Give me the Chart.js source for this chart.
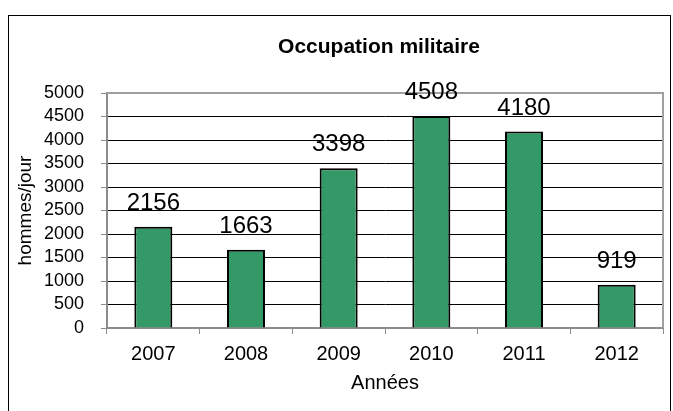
<!DOCTYPE html>
<html>
<head>
<meta charset="utf-8">
<script src="https://cdn.jsdelivr.net/npm/chart.js@4/dist/chart.umd.min.js"></script>
<style>
  html, body { margin: 0; padding: 0; background: #fff; }
  #wrap { position: relative; width: 673px; height: 411px; }
</style>
</head>
<body>
<div id="wrap"><canvas id="chart-occupation"></canvas></div>
<script>
// Values
const years = ['2007', '2008', '2009', '2010', '2011', '2012'];
const hommesJour = [2156, 1663, 3398, 4508, 4180, 919];
const chartTitle = 'Occupation militaire';
const yTitle = 'hommes/jour';
const xTitle = 'Années';

const FONT = "'Liberation Sans', Arial, sans-serif";
const AXIS_GRAY = '#8c8c8c';

// Outer frame, chart title and plot border
const decorations = {
  id: 'decorations',
  beforeDatasetsDraw(chart) {
    const { ctx, chartArea: a } = chart;
    ctx.save();
    ctx.strokeStyle = '#a0a0a0';
    ctx.lineWidth = 2;
    ctx.beginPath();
    ctx.moveTo(a.left, a.top);
    ctx.lineTo(a.right, a.top);
    ctx.lineTo(a.right, a.bottom);
    ctx.stroke();
    ctx.restore();
  },
  afterDraw(chart) {
    const { ctx } = chart;
    ctx.save();
    ctx.strokeStyle = '#000';
    ctx.lineWidth = 1;
    ctx.strokeRect(8.5, 15.5, 662, 420);
    ctx.fillStyle = '#000';
    ctx.font = 'bold 21px ' + FONT;
    ctx.textAlign = 'center';
    ctx.textBaseline = 'middle';
    ctx.fillText(chartTitle, 379, 47);
    ctx.restore();
  }
};

// Value labels above each bar
const valueLabels = {
  id: 'valueLabels',
  afterDatasetsDraw(chart) {
    const { ctx } = chart;
    const meta = chart.getDatasetMeta(0);
    ctx.save();
    ctx.fillStyle = '#000';
    ctx.font = '24px ' + FONT;
    ctx.textAlign = 'center';
    ctx.textBaseline = 'alphabetic';
    meta.data.forEach((bar, i) => {
      ctx.fillText(String(hommesJour[i]), bar.x, bar.y - 17);
    });
    ctx.restore();
  }
};

new Chart(document.getElementById('chart-occupation'), {
  type: 'bar',
  data: {
    labels: years,
    datasets: [{
      label: yTitle,
      data: hommesJour,
      backgroundColor: '#339966',
      borderColor: '#000',
      borderWidth: 2,
      categoryPercentage: 1,
      barPercentage: 0.41,
    }],
  },
  options: {
    responsive: true,
    maintainAspectRatio: false,
    animation: false,
    layout: { padding: { top: 93, right: 10, left: 0, bottom: 0 } },
    plugins: {
      legend: { display: false },
      title: { display: false },
      tooltip: { enabled: false },
    },
    scales: {
      x: {
        grid: {
          offset: true,
          drawOnChartArea: false,
          drawTicks: true,
          tickLength: 6,
          color: AXIS_GRAY,
        },
        border: { display: true, color: AXIS_GRAY, width: 2 },
        ticks: { color: '#000', font: { family: FONT, size: 20 }, padding: 8, maxRotation: 0 },
        title: {
          display: true,
          text: xTitle,
          color: '#000',
          font: { family: FONT, size: 20 },
          padding: { top: 0, bottom: 16 },
        },
        afterFit(scale) { scale.height = 83; },
      },
      y: {
        min: 0,
        max: 5000,
        ticks: {
          stepSize: 500,
          autoSkip: false,
          color: '#000',
          font: { family: FONT, size: 18 },
          padding: 17,
          callback: (v) => String(v),
        },
        grid: {
          color: (c) => (c.tick && (c.tick.value === 0 || c.tick.value === 5000)) ? 'rgba(0,0,0,0)' : '#000',
          tickColor: AXIS_GRAY,
          tickLength: 6,
          lineWidth: 1,
        },
        border: { display: true, color: AXIS_GRAY, width: 2 },
        title: {
          display: true,
          text: yTitle,
          color: '#000',
          font: { family: FONT, size: 19 },
          padding: { top: 14, bottom: 0 },
        },
        afterFit(scale) { scale.width = 107; },
      },
    },
  },
  plugins: [decorations, valueLabels],
});
</script>
</body>
</html>
